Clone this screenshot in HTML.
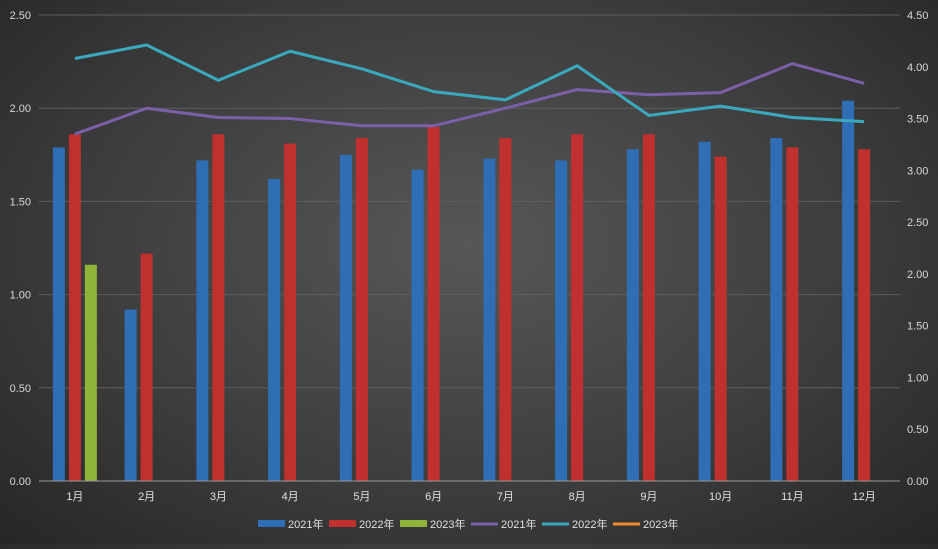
<!DOCTYPE html>
<html><head><meta charset="utf-8"><style>
html,body{margin:0;padding:0;}
body{width:938px;height:544px;overflow:hidden;background:radial-gradient(ellipse at 50% 45%,#575757 0%,#3e3e3e 55%,#262626 100%);font-family:"Liberation Sans","Noto Sans CJK SC",sans-serif;}
svg text{font-family:"Liberation Sans","Noto Sans CJK SC",sans-serif;}
</style></head><body>
<svg id="chart" width="938" height="544" xmlns="http://www.w3.org/2000/svg"></svg>
<script>
const categories=["1月","2月","3月","4月","5月","6月","7月","8月","9月","10月","11月","12月"];
const bars2021=[1.79,0.92,1.72,1.62,1.75,1.67,1.73,1.72,1.78,1.82,1.84,2.04];
const bars2022=[1.86,1.22,1.86,1.81,1.84,1.90,1.84,1.86,1.86,1.74,1.79,1.78];
const bars2023=[1.16,null,null,null,null,null,null,null,null,null,null,null];
const line2021=[3.35,3.60,3.51,3.50,3.43,3.43,3.60,3.78,3.73,3.75,4.03,3.84];
const line2022=[4.08,4.21,3.87,4.15,3.98,3.76,3.68,4.01,3.53,3.62,3.51,3.47];
const leftTicks=["0.00","0.50","1.00","1.50","2.00","2.50"];
const rightTicks=["0.00","0.50","1.00","1.50","2.00","2.50","3.00","3.50","4.00","4.50"];
const NS="http://www.w3.org/2000/svg";
const svg=document.getElementById('chart');
const X0=39,X1=900,Y0=481,Y1=15;
const cw=(X1-X0)/categories.length;
const cx=i=>X0+cw*(i+0.5);
const yL=v=>Y0-(v/2.5)*(Y0-Y1);
const yR=v=>Y0-(v/4.5)*(Y0-Y1);
function mk(t,a,txt){const e=document.createElementNS(NS,t);for(const k in a)e.setAttribute(k,a[k]);if(txt!==undefined)e.textContent=txt;svg.appendChild(e);return e;}
leftTicks.forEach(t=>{const v=parseFloat(t),y=yL(v);
 if(v>0){const g=mk('line',{x1:X0,x2:X1,y1:y,y2:y,stroke:'#5e5e5e','stroke-width':1});
 
 }
 const l=mk('text',{x:31,y:y+4,'text-anchor':'end','font-size':11,fill:'#d8d8d8'},t);
 
 });
rightTicks.forEach(t=>{const y=yR(parseFloat(t));
 const l=mk('text',{x:907,y:y+4,'font-size':11,fill:'#d8d8d8'},t);
 
 });
const series=[[bars2021,'#2f6db5',-22,'bar-2021'],[bars2022,'#c0302f',-6,'bar-2022'],[bars2023,'#8fb43a',10,'bar-2023']];
series.forEach(([d,c,off,n])=>d.forEach((v,i)=>{if(v==null)return;
 const r=mk('rect',{x:cx(i)+off,y:yL(v),width:12,height:Y0-yL(v),fill:c});
 
 }));
const ax=mk('line',{x1:X0,x2:X1,y1:Y0,y2:Y0,stroke:'#9a9a9a','stroke-width':1});


categories.forEach((c,i)=>{const l=mk('text',{x:cx(i),y:500,'text-anchor':'middle','font-size':11,fill:'#e0e0e0'},c);
 
 });
[[line2021,'#7d5ea8','line-2021'],[line2022,'#3aa9bd','line-2022']].forEach(([d,c,n])=>{
 const p=mk('polyline',{points:d.map((v,i)=>cx(i)+','+yR(v)).join(' '),fill:'none',stroke:c,'stroke-width':3,'stroke-linejoin':'round'});
 
 });
const legend=[['rect','#2f6db5','2021年'],['rect','#c0302f','2022年'],['rect','#8fb43a','2023年'],['line','#7d5ea8','2021年'],['line','#3aa9bd','2022年'],['line','#f08a30','2023年']];
let lx=258;
legend.forEach(([t,c,txt])=>{
 let m;
 if(t==='rect')m=mk('rect',{x:lx,y:520,width:27,height:7,fill:c});
 else m=mk('line',{x1:lx,x2:lx+27,y1:524,y2:524,stroke:c,'stroke-width':3});
 
 
 const l=mk('text',{x:lx+30,y:528,'font-size':11,fill:'#e0e0e0'},txt);
 
 
 lx+=71;});
</script>
</body></html>
